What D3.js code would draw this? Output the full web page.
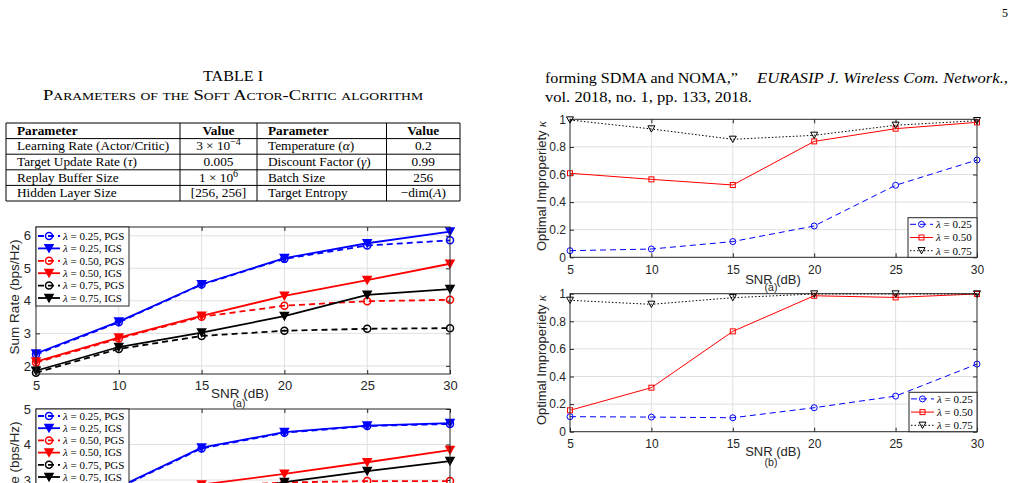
<!DOCTYPE html>
<html>
<head>
<meta charset="utf-8">
<script src="https://cdn.jsdelivr.net/npm/d3@7"></script>
<style>
  body { margin: 0; background: #fff; }
  svg { display: block; }
</style>
</head>
<body>
<svg id="page"></svg>
<script>
// ---- data ----
const snr = [5, 10, 15, 20, 25, 30];

// left, figure (a): sum rate vs SNR
const rateA_25_PGS = [2.35, 3.34, 4.50, 5.29, 5.70, 5.86];
const rateA_25_IGS = [2.38, 3.36, 4.51, 5.31, 5.77, 6.13];
const rateA_50_PGS = [2.10, 2.84, 3.51, 3.85, 3.99, 4.03];
const rateA_50_IGS = [2.13, 2.87, 3.54, 4.15, 4.64, 5.14];
const rateA_75_PGS = [1.79, 2.52, 2.92, 3.08, 3.14, 3.16];
const rateA_75_IGS = [1.85, 2.58, 3.02, 3.53, 4.18, 4.36];

// left, figure (b): only the upper part is on the page
const rateB_25_PGS = [2.05, 2.78, 3.89, 4.33, 4.52, 4.58];
const rateB_25_IGS = [2.07, 2.80, 3.91, 4.35, 4.53, 4.60];
const rateB_50_PGS = [1.80, 2.40, 2.80, 2.93, 2.97, 2.97];
const rateB_50_IGS = [1.82, 2.42, 2.87, 3.17, 3.50, 3.84];
const rateB_75_PGS = [1.60, 2.10, 2.40, 2.55, 2.60, 2.62];
const rateB_75_IGS = [1.62, 2.15, 2.50, 2.94, 3.25, 3.53];

// right: optimal improperiety kappa
const kappaA_25 = [0.048, 0.060, 0.114, 0.227, 0.522, 0.705];
const kappaA_50 = [0.609, 0.565, 0.524, 0.840, 0.932, 0.978];
const kappaA_75 = [0.995, 0.930, 0.855, 0.884, 0.957, 0.990];
const kappaB_25 = [0.109, 0.106, 0.101, 0.174, 0.258, 0.490];
const kappaB_50 = [0.155, 0.319, 0.727, 0.985, 0.973, 0.998];
const kappaB_75 = [0.952, 0.923, 0.971, 0.998, 0.998, 0.998];

const rateTicks = [1, 2, 3, 4, 5, 6];
const kappaTicks = [0, 0.2, 0.4, 0.6, 0.8, 1];

// table I
const tableHead = ["Parameter", "Value", "Parameter", "Value"];
const tableRows = [
  ["Learning Rate (Actor/Critic)", "3 × 10^{−4}", "Temperature ($α$)", "0.2"],
  ["Target Update Rate ($τ$)", "0.005", "Discount Factor ($γ$)", "0.99"],
  ["Replay Buffer Size", "1 × 10^{6}", "Batch Size", "256"],
  ["Hidden Layer Size", "[256, 256]", "Target Entropy", "−dim($A$)"]
];

const W = 1016, H = 483;
const svg = d3.select("#page").attr("width", W).attr("height", H);

const serif = "'Liberation Serif', 'Times New Roman', serif";
const sans = "'Liberation Sans', Arial, Helvetica, sans-serif";
const ink = "#262626", grid = "#e0e0e0";

// ---- page text ----
svg.append("text").attr("x", 1008).attr("y", 17).attr("text-anchor", "end")
  .attr("font-family", serif).attr("font-size", 12).text("5");

svg.append("text").attr("x", 233).attr("y", 81).attr("text-anchor", "middle")
  .attr("font-family", serif).attr("font-size", 15)
  .attr("textLength", 60).attr("lengthAdjust", "spacingAndGlyphs").text("TABLE I");
svg.append("text").attr("x", 233).attr("y", 100).attr("text-anchor", "middle")
  .attr("font-family", serif).attr("font-size", 15).style("font-variant", "small-caps")
  .attr("textLength", 380).attr("lengthAdjust", "spacingAndGlyphs")
  .text("Parameters of the Soft Actor-Critic algorithm");

// reference list lines (first one justified to the column edge)
svg.append("text").attr("x", 545).attr("y", 83)
  .attr("font-family", serif).attr("font-size", 14.5)
  .attr("textLength", 193).attr("lengthAdjust", "spacingAndGlyphs")
  .text("forming SDMA and NOMA,”");
svg.append("text").attr("x", 757).attr("y", 83)
  .attr("font-family", serif).attr("font-size", 14.5).attr("font-style", "italic")
  .attr("textLength", 251).attr("lengthAdjust", "spacingAndGlyphs")
  .text("EURASIP J. Wireless Com. Network.,");
svg.append("text").attr("x", 545).attr("y", 102)
  .attr("font-family", serif).attr("font-size", 14.5)
  .attr("textLength", 207).attr("lengthAdjust", "spacingAndGlyphs")
  .text("vol. 2018, no. 1, pp. 133, 2018.");

// small rich-text helper: $..$ italic, ^{..} superscript
function rich(sel, str) {
  const parts = str.split(/(\$[^$]*\$|\^\{[^}]*\})/).filter(s => s.length);
  let up = false;
  parts.forEach(p => {
    const t = sel.append("tspan");
    if (p[0] === "$") t.attr("font-style", "italic").text(p.slice(1, -1));
    else if (p[0] === "^") { t.attr("font-size", "0.75em").attr("dy", -5).text(p.slice(2, -1)); up = true; }
    else { t.text(p); if (up) { t.attr("dy", 5); up = false; } }
  });
}

// ---- table ----
const colX = [6, 180, 257, 386.5, 460];
const rowY = d3.range(6).map(i => 123 + i * 15.6);
const tbl = svg.append("g").attr("font-family", serif).attr("font-size", 13.3);
tbl.selectAll("line.h").data(rowY).join("line")
  .attr("x1", colX[0]).attr("x2", colX[4]).attr("y1", d => d).attr("y2", d => d)
  .attr("stroke", "#000").attr("stroke-width", 1);
tbl.selectAll("line.v").data(colX).join("line")
  .attr("x1", d => d).attr("x2", d => d).attr("y1", rowY[0]).attr("y2", rowY[5])
  .attr("stroke", "#000").attr("stroke-width", 1);
const cellX = [17, (colX[1] + colX[2]) / 2, 268, (colX[3] + colX[4]) / 2];
const cellAnchor = ["start", "middle", "start", "middle"];
[tableHead].concat(tableRows).forEach((row, r) => {
  row.forEach((c, k) => {
    const t = tbl.append("text").attr("x", cellX[k]).attr("y", rowY[r] + 11.8)
      .attr("text-anchor", cellAnchor[k]);
    if (r === 0) t.attr("font-weight", "bold").text(c);
    else rich(t, c);
  });
});

// ---- charts ----
function triDown(w) {
  const h = w * 0.9;
  return `M${-w / 2},${-h / 2}L${w / 2},${-h / 2}L0,${h / 2}Z`;
}
function marker(g, kind, color, size, sw) {
  if (kind === "o") return g.append("circle").attr("r", size / 2).attr("fill", "none")
    .attr("stroke", color).attr("stroke-width", sw);
  if (kind === "s") return g.append("rect").attr("x", -size / 2).attr("y", -size / 2)
    .attr("width", size).attr("height", size).attr("fill", "none")
    .attr("stroke", color).attr("stroke-width", sw);
  if (kind === "v") return g.append("path").attr("d", triDown(size))
    .attr("fill", "none").attr("stroke", color).attr("stroke-width", sw);
  if (kind === "V") return g.append("path").attr("d", triDown(size))
    .attr("fill", color).attr("stroke", color).attr("stroke-width", sw);
}

function panel(o) {
  const g = svg.append("g");
  const x = d3.scaleLinear().domain([5, 30]).range(o.xr);
  const y = d3.scaleLinear().domain(o.yd).range(o.yr);
  const yt = o.yTicks.filter(v => v >= o.yd[0] - 1e-9 && v <= o.yd[1] + 1e-9);

  g.append("rect").attr("x", o.xr[0]).attr("y", o.yr[1])
    .attr("width", o.xr[1] - o.xr[0]).attr("height", o.yr[0] - o.yr[1]).attr("fill", "#fff");

  // grid
  g.selectAll("line.gx").data(snr.slice(1, -1)).join("line")
    .attr("x1", d => x(d)).attr("x2", d => x(d)).attr("y1", o.yr[0]).attr("y2", o.yr[1])
    .attr("stroke", grid);
  g.selectAll("line.gy").data(yt.filter(v => y(v) < o.yr[0] - 1 && y(v) > o.yr[1] + 1)).join("line")
    .attr("x1", o.xr[0]).attr("x2", o.xr[1]).attr("y1", d => y(d)).attr("y2", d => y(d))
    .attr("stroke", grid);

  // axes
  g.append("g").attr("transform", `translate(0,${o.yr[0]})`)
    .call(d3.axisBottom(x).tickValues(snr).tickFormat(d3.format("d")).tickSize(-4).tickSizeOuter(0).tickPadding(o.padX));
  g.append("g").attr("transform", `translate(${o.xr[0]},0)`)
    .call(d3.axisLeft(y).tickValues(yt).tickFormat(o.yFmt).tickSize(-4).tickSizeOuter(0).tickPadding(o.padY));
  g.append("g").attr("transform", `translate(0,${o.yr[1]})`)
    .call(d3.axisTop(x).tickValues(snr).tickFormat("").tickSize(-4).tickSizeOuter(0));
  g.append("g").attr("transform", `translate(${o.xr[1]},0)`)
    .call(d3.axisRight(y).tickValues(yt).tickFormat("").tickSize(-4).tickSizeOuter(0));
  g.selectAll(".domain").attr("stroke", "none");
  g.selectAll(".tick line").attr("stroke", ink);
  g.selectAll(".tick text").attr("fill", ink).attr("font-family", sans).attr("font-size", o.tickFont);

  // series
  const line = d3.line().x((d, i) => x(snr[i])).y(d => y(d));
  o.series.forEach(s => {
    g.append("path").datum(s.vals).attr("d", line).attr("fill", "none")
      .attr("stroke", s.color).attr("stroke-width", o.lw)
      .attr("stroke-dasharray", s.dash || null);
    s.vals.forEach((v, i) => {
      marker(g.append("g").attr("transform", `translate(${x(snr[i])},${y(v)})`),
        s.mk, s.color, o.mkSize[s.mk], o.mlw);
    });
  });

  // box
  g.append("rect").attr("x", o.xr[0]).attr("y", o.yr[1])
    .attr("width", o.xr[1] - o.xr[0]).attr("height", o.yr[0] - o.yr[1])
    .attr("fill", "none").attr("stroke", ink).attr("stroke-width", 1);

  // labels
  g.append("text").attr("x", o.xLab[0]).attr("y", o.xLab[1]).attr("text-anchor", "middle")
    .attr("font-family", sans).attr("font-size", o.labFont).attr("fill", ink).text("SNR (dB)");
  g.append("text").attr("x", o.sub[0]).attr("y", o.sub[1]).attr("text-anchor", "middle")
    .attr("font-family", sans).attr("font-size", 10.5).attr("fill", ink).text(o.sub[2]);
  const yl = g.append("text")
    .attr("transform", `translate(${o.yLab[0]},${o.yLab[1]}) rotate(-90)`)
    .attr("text-anchor", "middle").attr("dy", "0.35em")
    .attr("font-family", sans).attr("font-size", o.labFont).attr("fill", ink);
  yl.append("tspan").text(o.yText);
  if (o.kappa) yl.append("tspan").attr("font-family", serif).attr("font-style", "italic").text(" κ");

  // legend
  const L = o.legend;
  const lg = g.append("g");
  lg.append("rect").attr("x", L.x).attr("y", L.y).attr("width", L.w).attr("height", L.h)
    .attr("fill", "#fff").attr("stroke", ink).attr("stroke-width", 1);
  o.series.forEach((s, i) => {
    const yy = L.y + L.first + i * L.step;
    lg.append("line").attr("x1", L.x + 2).attr("x2", L.x + L.lineLen).attr("y1", yy).attr("y2", yy)
      .attr("stroke", s.color).attr("stroke-width", o.lw).attr("stroke-dasharray", s.dash || null);
    marker(lg.append("g").attr("transform", `translate(${L.x + 2 + (L.lineLen - 2) / 2},${yy})`),
      s.mk, s.color, o.mkSize[s.mk], o.mlw);
    const t = lg.append("text").attr("x", L.x + L.lineLen + 3).attr("y", yy).attr("dy", "0.35em")
      .attr("font-family", serif).attr("font-size", L.font).attr("fill", "#000");
    t.append("tspan").attr("font-style", "italic").text("λ");
    t.append("tspan").text(" = " + s.label);
  });
}

const rateSeries = (a25p, a25i, a50p, a50i, a75p, a75i) => [
  { vals: a25p, color: "#0000ff", dash: "6,4", mk: "o", label: "0.25, PGS" },
  { vals: a25i, color: "#0000ff", mk: "V", label: "0.25, IGS" },
  { vals: a50p, color: "#ff0000", dash: "6,4", mk: "o", label: "0.50, PGS" },
  { vals: a50i, color: "#ff0000", mk: "V", label: "0.50, IGS" },
  { vals: a75p, color: "#000000", dash: "6,4", mk: "o", label: "0.75, PGS" },
  { vals: a75i, color: "#000000", mk: "V", label: "0.75, IGS" }
];
const kappaSeries = (k25, k50, k75) => [
  { vals: k25, color: "#0000ff", dash: "6,4", mk: "o", label: "0.25" },
  { vals: k50, color: "#ff0000", mk: "s", label: "0.50" },
  { vals: k75, color: "#000000", dash: "1.5,2", mk: "v", label: "0.75" }
];

const leftBase = {
  xr: [36, 450], yFmt: d3.format("d"), padX: 7, padY: 5,
  tickFont: 13, labFont: 13.5, lw: 1.8, mlw: 1.5, mkSize: { o: 7, V: 8 },
  yText: "Sum Rate (bps/Hz)"
};
panel(Object.assign({}, leftBase, {
  yd: [1.75, 6.27], yr: [374, 227], yTicks: rateTicks,
  series: rateSeries(rateA_25_PGS, rateA_25_IGS, rateA_50_PGS, rateA_50_IGS, rateA_75_PGS, rateA_75_IGS),
  xLab: [240, 398], sub: [239, 407, "(a)"], yLab: [14, 297],
  legend: { x: 36, y: 227, w: 93, h: 79, first: 9, step: 12.4, lineLen: 24, font: 11 }
}));
panel(Object.assign({}, leftBase, {
  yd: [1, 5], yr: [551, 409], yTicks: rateTicks,
  series: rateSeries(rateB_25_PGS, rateB_25_IGS, rateB_50_PGS, rateB_50_IGS, rateB_75_PGS, rateB_75_IGS),
  xLab: [240, 580], sub: [239, 589, "(b)"], yLab: [14, 479],
  legend: { x: 36, y: 409, w: 93, h: 79, first: 7, step: 12.2, lineLen: 24, font: 11 }
}));

const rightBase = {
  xr: [570, 977], yd: [0, 1], yTicks: kappaTicks, yFmt: d => d3.format("")(+d.toFixed(1)),
  padX: 8, padY: 4, tickFont: 12, labFont: 13, lw: 1, mlw: 1,
  mkSize: { o: 6, s: 5, v: 7 }, yText: "Optimal Improperiety", kappa: true
};
panel(Object.assign({}, rightBase, {
  yr: [257.3, 119.3], series: kappaSeries(kappaA_25, kappaA_50, kappaA_75),
  xLab: [773, 284], sub: [771, 291, "(a)"], yLab: [541, 186],
  legend: { x: 908, y: 217.7, w: 69, h: 39.6, first: 6.6, step: 13.2, lineLen: 25, font: 11 }
}));
panel(Object.assign({}, rightBase, {
  yr: [431.7, 293.7], series: kappaSeries(kappaB_25, kappaB_50, kappaB_75),
  xLab: [773, 456], sub: [771, 466, "(b)"], yLab: [541, 360],
  legend: { x: 909, y: 392.3, w: 68, h: 39.4, first: 6.6, step: 13.2, lineLen: 25, font: 11 }
}));
</script>
</body>
</html>
